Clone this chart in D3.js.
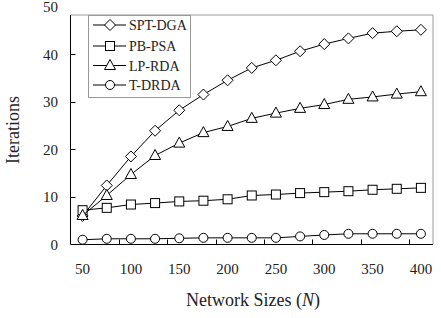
<!DOCTYPE html>
<html><head><meta charset="utf-8">
<script src="https://cdn.jsdelivr.net/npm/d3@7"></script>
<style>body{margin:0;background:#fff}svg{display:block}text{font-family:"Liberation Serif","Times New Roman",serif;fill:#222}</style>
</head><body>
<script>
const categories = [50,75,100,125,150,175,200,225,250,275,300,325,350,375,400];
const xTickLabels = [50,100,150,200,250,300,350,400];
const yTickLabels = [0,10,20,30,40,50];
const sptDga = [6.0,12.4,18.5,23.9,28.2,31.5,34.5,37.1,38.7,40.6,42.1,43.3,44.4,44.8,45.1];
const pbPsa  = [7.2,7.7,8.4,8.7,9.05,9.2,9.5,10.3,10.5,10.8,11.0,11.2,11.5,11.7,11.9];
const lpRda  = [6.1,10.3,14.7,18.7,21.3,23.5,24.8,26.5,27.6,28.6,29.4,30.5,31.0,31.6,32.1];
const tDrda  = [1.0,1.2,1.2,1.2,1.3,1.4,1.4,1.4,1.4,1.7,2.0,2.25,2.25,2.25,2.25];
const seriesNames = ["SPT-DGA","PB-PSA","LP-RDA","T-DRDA"];
const seriesMarkers = ["diamond","square","triangle","circle"];
const seriesValues = [sptDga,pbPsa,lpRda,tDrda];

const W=441,H=318, L=70.5, R=433, T=15, B=244.5;
const svg=d3.select("body").append("svg").attr("width",W).attr("height",H);
const x=d3.scaleBand().domain(categories).range([L,R]).padding(0);
const xc=c=>x(c)+x.bandwidth()/2;
const y=d3.scaleLinear().domain([0,50]).range([B,6.5]);

// frame top/right
svg.append("path").attr("d",`M${L},${T}H${R}V${B}`).attr("fill","none").attr("stroke","#999").attr("stroke-width",1);
// axes lines
svg.append("line").attr("x1",L).attr("x2",L).attr("y1",T).attr("y2",B).attr("stroke","#000");
svg.append("line").attr("x1",L).attr("x2",R).attr("y1",B).attr("y2",B).attr("stroke","#000");
// y ticks (inside)
const yTickPos=yTickLabels.filter(v=>v>0&&v<50);
svg.selectAll(".yt").data(yTickPos).enter().append("line")
  .attr("x1",L).attr("x2",L+5).attr("y1",d=>Math.round(y(d))+0.5).attr("y2",d=>Math.round(y(d))+0.5).attr("stroke","#000");
svg.selectAll(".yl").data(yTickLabels).enter().append("text")
  .attr("x",58).attr("y",d=>y(d)).attr("dy","0.36em").attr("text-anchor","end").attr("font-size",15).text(d=>d);
// x ticks (inside) at category boundaries every 2 categories
const xTickCats=categories.filter((c,i)=>i>0&&i%2===0);
svg.selectAll(".xt").data(xTickCats).enter().append("line")
  .attr("x1",d=>Math.round(x(d))+0.5).attr("x2",d=>Math.round(x(d))+0.5).attr("y1",B).attr("y2",B-5).attr("stroke","#000");
svg.selectAll(".xl").data(xTickLabels).enter().append("text")
  .attr("x",d=>xc(d)).attr("y",269).attr("dy","0.36em").attr("text-anchor","middle").attr("font-size",15).text(d=>d);
// axis titles
const xt=svg.append("text").attr("x",253).attr("y",300).attr("dy","0.36em").attr("text-anchor","middle").attr("font-size",18);
xt.append("tspan").text("Network Sizes (");
xt.append("tspan").attr("font-style","italic").text("N");
xt.append("tspan").text(")");
svg.append("text").attr("transform","translate(13,130) rotate(-90)").attr("dy","0.36em").attr("text-anchor","middle").attr("font-size",18).text("Iterations");

function marker(g,type,cx,cy){
  const s={fill:"#fff",stroke:"#000","stroke-width":1};
  let el;
  if(type==="diamond") el=g.append("path").attr("d",`M${cx},${cy-5.5}L${cx+5.5},${cy}L${cx},${cy+5.5}L${cx-5.5},${cy}Z`);
  else if(type==="square") el=g.append("rect").attr("x",cx-4.5).attr("y",cy-4.5).attr("width",9).attr("height",9);
  else if(type==="triangle") el=g.append("path").attr("d",`M${cx},${cy-6}L${cx+5.5},${cy+4}L${cx-5.5},${cy+4}Z`);
  else el=g.append("circle").attr("cx",cx).attr("cy",cy).attr("r",4.5);
  for(const k in s) el.attr(k,s[k]);
}
const line=d3.line().x((d,i)=>xc(categories[i])).y(d=>y(d));
seriesValues.forEach((vals,si)=>{
  const g=svg.append("g");
  g.append("path").datum(vals).attr("d",line).attr("fill","none").attr("stroke","#000").attr("stroke-width",1);
  vals.forEach((v,i)=>marker(g,seriesMarkers[si],xc(categories[i]),y(v)));
});
// legend
const lg=svg.append("g");
lg.append("rect").attr("x",88.5).attr("y",15.5).attr("width",102).attr("height",82).attr("fill","#fff").attr("stroke","#999");
const rowY=[25,46,65.5,85];
seriesNames.forEach((n,i)=>{
  lg.append("line").attr("x1",93).attr("x2",126).attr("y1",rowY[i]).attr("y2",rowY[i]).attr("stroke","#000");
  marker(lg,seriesMarkers[i],110,rowY[i]);
  lg.append("text").attr("x",129).attr("y",rowY[i]).attr("dy","0.36em").attr("font-size",14).text(n);
});
</script>
</body></html>
